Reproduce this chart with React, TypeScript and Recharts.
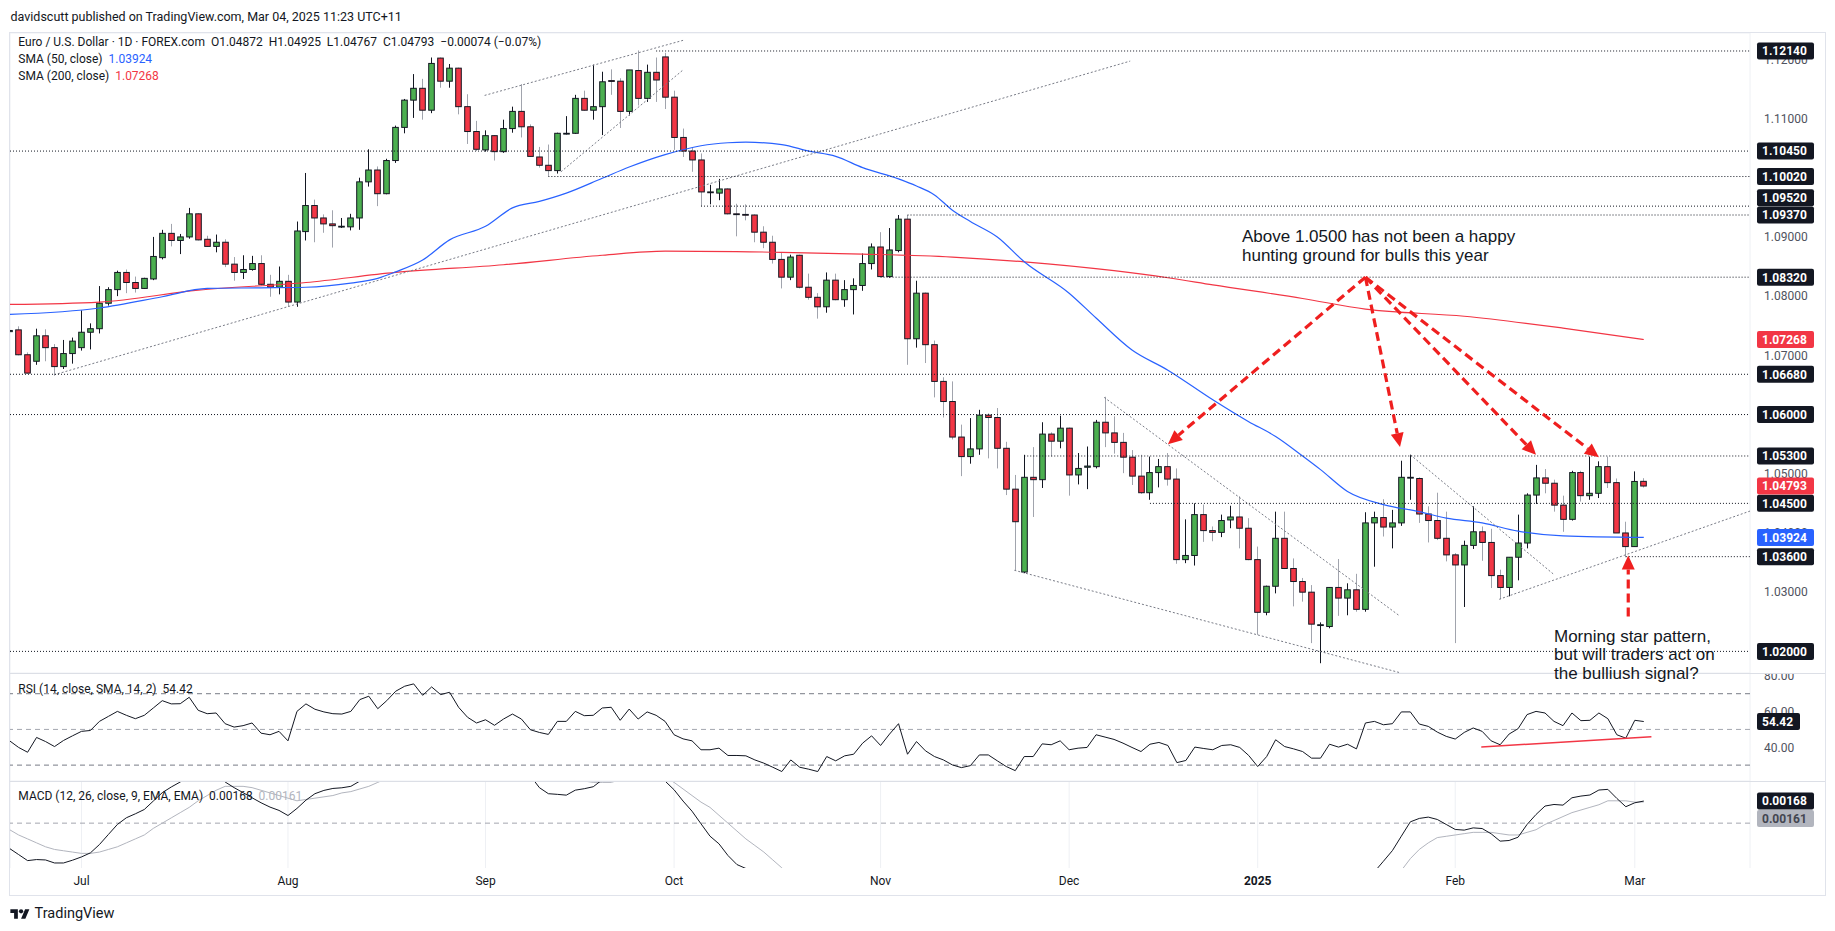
import React from 'react';
import { ComposedChart, Bar, Line, XAxis, YAxis, CartesianGrid, ReferenceLine } from 'recharts';

type Candle = [string, number, number, number, number]; // date, open, high, low, close

const candlesJun: Candle[] = [
  ['2024-06-19', 1.0740, 1.0750, 1.0732, 1.0742],
  ['2024-06-20', 1.0743, 1.0749, 1.0700, 1.0701],
  ['2024-06-21', 1.0701, 1.0705, 1.0669, 1.0670],
  ['2024-06-24', 1.0690, 1.0745, 1.0684, 1.0733],
  ['2024-06-25', 1.0733, 1.0744, 1.0690, 1.0713],
  ['2024-06-26', 1.0713, 1.0719, 1.0666, 1.0681],
  ['2024-06-27', 1.0681, 1.0726, 1.0677, 1.0703],
  ['2024-06-28', 1.0703, 1.0730, 1.0686, 1.0724],
];
const candlesJul: Candle[] = [
  ['2024-07-01', 1.0713, 1.0776, 1.0708, 1.0739],
  ['2024-07-02', 1.0739, 1.0754, 1.0710, 1.0745],
  ['2024-07-03', 1.0745, 1.0817, 1.0737, 1.0788],
  ['2024-07-04', 1.0788, 1.0815, 1.0784, 1.0811],
  ['2024-07-05', 1.0811, 1.0843, 1.0800, 1.0840],
  ['2024-07-08', 1.0840, 1.0845, 1.0805, 1.0823],
  ['2024-07-09', 1.0823, 1.0833, 1.0806, 1.0813],
  ['2024-07-10', 1.0813, 1.0831, 1.0812, 1.0830],
  ['2024-07-11', 1.0829, 1.0900, 1.0827, 1.0867],
  ['2024-07-12', 1.0865, 1.0912, 1.0862, 1.0906],
  ['2024-07-15', 1.0906, 1.0922, 1.0884, 1.0894],
  ['2024-07-16', 1.0894, 1.0905, 1.0871, 1.0900],
  ['2024-07-17', 1.0900, 1.0949, 1.0897, 1.0939],
  ['2024-07-18', 1.0939, 1.0940, 1.0894, 1.0895],
  ['2024-07-19', 1.0896, 1.0902, 1.0883, 1.0884],
  ['2024-07-22', 1.0884, 1.0904, 1.0874, 1.0891],
  ['2024-07-23', 1.0891, 1.0896, 1.0849, 1.0854],
  ['2024-07-24', 1.0854, 1.0866, 1.0826, 1.0840],
  ['2024-07-25', 1.0840, 1.0869, 1.0829, 1.0845],
  ['2024-07-26', 1.0845, 1.0868, 1.0843, 1.0855],
  ['2024-07-29', 1.0855, 1.0869, 1.0818, 1.0820],
  ['2024-07-30', 1.0820, 1.0836, 1.0799, 1.0815],
  ['2024-07-31', 1.0815, 1.0850, 1.0803, 1.0825],
];
const candlesAug: Candle[] = [
  ['2024-08-01', 1.0825, 1.0836, 1.0782, 1.0790],
  ['2024-08-02', 1.0790, 1.0926, 1.0782, 1.0910],
  ['2024-08-05', 1.0909, 1.1008, 1.0894, 1.0953],
  ['2024-08-06', 1.0953, 1.0963, 1.0891, 1.0932],
  ['2024-08-07', 1.0932, 1.0938, 1.0907, 1.0922],
  ['2024-08-08', 1.0922, 1.0945, 1.0882, 1.0919],
  ['2024-08-09', 1.0918, 1.0932, 1.0915, 1.0918],
  ['2024-08-12', 1.0917, 1.0939, 1.0911, 1.0932],
  ['2024-08-13', 1.0932, 1.1000, 1.0912, 1.0993],
  ['2024-08-14', 1.0993, 1.1048, 1.0985, 1.1013],
  ['2024-08-15', 1.1013, 1.1019, 1.0952, 1.0973],
  ['2024-08-16', 1.0973, 1.1032, 1.0972, 1.1029],
  ['2024-08-19', 1.1029, 1.1088, 1.1025, 1.1085],
  ['2024-08-20', 1.1085, 1.1133, 1.1075, 1.1131],
  ['2024-08-21', 1.1131, 1.1175, 1.1101, 1.1151],
  ['2024-08-22', 1.1151, 1.1167, 1.1098, 1.1114],
  ['2024-08-23', 1.1114, 1.1203, 1.1109, 1.1193],
  ['2024-08-26', 1.1202, 1.1203, 1.1152, 1.1163],
  ['2024-08-27', 1.1163, 1.1192, 1.1152, 1.1185],
  ['2024-08-28', 1.1185, 1.1186, 1.1107, 1.1120],
  ['2024-08-29', 1.1120, 1.1141, 1.1057, 1.1078],
  ['2024-08-30', 1.1078, 1.1096, 1.1045, 1.1048],
];
const candlesSep: Candle[] = [
  ['2024-09-02', 1.1047, 1.1080, 1.1044, 1.1071],
  ['2024-09-03', 1.1071, 1.1072, 1.1029, 1.1044],
  ['2024-09-04', 1.1044, 1.1098, 1.1042, 1.1083],
  ['2024-09-05', 1.1083, 1.1120, 1.1076, 1.1112],
  ['2024-09-06', 1.1112, 1.1158, 1.1068, 1.1086],
  ['2024-09-09', 1.1086, 1.1090, 1.1035, 1.1036],
  ['2024-09-10', 1.1035, 1.1052, 1.1017, 1.1021],
  ['2024-09-11', 1.1021, 1.1056, 1.1003, 1.1012],
  ['2024-09-12', 1.1012, 1.1076, 1.1007, 1.1075],
  ['2024-09-13', 1.1074, 1.1104, 1.1073, 1.1075],
  ['2024-09-16', 1.1075, 1.1140, 1.1074, 1.1134],
  ['2024-09-17', 1.1134, 1.1147, 1.1113, 1.1114],
  ['2024-09-18', 1.1114, 1.1191, 1.1098, 1.1120],
  ['2024-09-19', 1.1120, 1.1179, 1.1072, 1.1162],
  ['2024-09-20', 1.1164, 1.1183, 1.1140, 1.1163],
  ['2024-09-23', 1.1163, 1.1168, 1.1084, 1.1112],
  ['2024-09-24', 1.1112, 1.1182, 1.1105, 1.1182],
  ['2024-09-25', 1.1181, 1.1215, 1.1122, 1.1134],
  ['2024-09-26', 1.1134, 1.1191, 1.1128, 1.1178],
  ['2024-09-27', 1.1178, 1.1203, 1.1128, 1.1165],
  ['2024-09-30', 1.1204, 1.1211, 1.1116, 1.1136],
];
const candlesOct: Candle[] = [
  ['2024-10-01', 1.1136, 1.1147, 1.1047, 1.1068],
  ['2024-10-02', 1.1068, 1.1083, 1.1035, 1.1045],
  ['2024-10-03', 1.1045, 1.1051, 1.1010, 1.1030],
  ['2024-10-04', 1.1030, 1.1041, 1.0952, 1.0976],
  ['2024-10-07', 1.0976, 1.0988, 1.0955, 1.0976],
  ['2024-10-08', 1.0974, 1.0998, 1.0962, 1.0981],
  ['2024-10-09', 1.0981, 1.0982, 1.0938, 1.0939],
  ['2024-10-10', 1.0939, 1.0956, 1.0901, 1.0938],
  ['2024-10-11', 1.0938, 1.0955, 1.0928, 1.0937],
  ['2024-10-14', 1.0937, 1.0938, 1.0891, 1.0908],
  ['2024-10-15', 1.0908, 1.0918, 1.0881, 1.0891],
  ['2024-10-16', 1.0891, 1.0902, 1.0855, 1.0862],
  ['2024-10-17', 1.0862, 1.0874, 1.0813, 1.0832],
  ['2024-10-18', 1.0832, 1.0870, 1.0827, 1.0866],
  ['2024-10-21', 1.0869, 1.0870, 1.0813, 1.0815],
  ['2024-10-22', 1.0815, 1.0838, 1.0794, 1.0798],
  ['2024-10-23', 1.0798, 1.0805, 1.0762, 1.0782],
  ['2024-10-24', 1.0782, 1.0840, 1.0772, 1.0827],
  ['2024-10-25', 1.0827, 1.0838, 1.0793, 1.0794],
  ['2024-10-28', 1.0794, 1.0827, 1.0782, 1.0811],
  ['2024-10-29', 1.0811, 1.0830, 1.0769, 1.0818],
  ['2024-10-30', 1.0818, 1.0872, 1.0809, 1.0855],
  ['2024-10-31', 1.0855, 1.0889, 1.0845, 1.0883],
];
const candlesNov: Candle[] = [
  ['2024-11-01', 1.0883, 1.0908, 1.0832, 1.0833],
  ['2024-11-04', 1.0833, 1.0915, 1.0831, 1.0878],
  ['2024-11-05', 1.0877, 1.0937, 1.0874, 1.0930],
  ['2024-11-06', 1.0930, 1.0937, 1.0684, 1.0728],
  ['2024-11-07', 1.0728, 1.0826, 1.0713, 1.0805],
  ['2024-11-08', 1.0805, 1.0806, 1.0687, 1.0718],
  ['2024-11-11', 1.0718, 1.0725, 1.0629, 1.0656],
  ['2024-11-12', 1.0656, 1.0663, 1.0595, 1.0622],
  ['2024-11-13', 1.0622, 1.0656, 1.0558, 1.0562],
  ['2024-11-14', 1.0562, 1.0583, 1.0496, 1.0529],
  ['2024-11-15', 1.0529, 1.0594, 1.0517, 1.0542],
  ['2024-11-18', 1.0542, 1.0608, 1.0532, 1.0599],
  ['2024-11-19', 1.0599, 1.0602, 1.0526, 1.0595],
  ['2024-11-20', 1.0595, 1.0611, 1.0509, 1.0543],
  ['2024-11-21', 1.0543, 1.0554, 1.0464, 1.0474],
  ['2024-11-22', 1.0474, 1.0498, 1.0337, 1.0419],
  ['2024-11-25', 1.0334, 1.0532, 1.0332, 1.0494],
  ['2024-11-26', 1.0494, 1.0545, 1.0427, 1.0490],
  ['2024-11-27', 1.0490, 1.0587, 1.0476, 1.0567],
  ['2024-11-28', 1.0567, 1.0570, 1.0529, 1.0555],
  ['2024-11-29', 1.0555, 1.0598, 1.0543, 1.0577],
];
const candlesDec: Candle[] = [
  ['2024-12-02', 1.0577, 1.0578, 1.0463, 1.0498],
  ['2024-12-03', 1.0498, 1.0535, 1.0482, 1.0509],
  ['2024-12-04', 1.0511, 1.0546, 1.0474, 1.0513],
  ['2024-12-05', 1.0512, 1.0591, 1.0509, 1.0587],
  ['2024-12-06', 1.0587, 1.0630, 1.0545, 1.0569],
  ['2024-12-09', 1.0569, 1.0597, 1.0534, 1.0553],
  ['2024-12-10', 1.0553, 1.0569, 1.0501, 1.0528],
  ['2024-12-11', 1.0528, 1.0540, 1.0481, 1.0496],
  ['2024-12-12', 1.0496, 1.0532, 1.0466, 1.0468],
  ['2024-12-13', 1.0468, 1.0529, 1.0456, 1.0502],
  ['2024-12-16', 1.0502, 1.0525, 1.0477, 1.0512],
  ['2024-12-17', 1.0512, 1.0535, 1.0480, 1.0491],
  ['2024-12-18', 1.0491, 1.0509, 1.0348, 1.0355],
  ['2024-12-19', 1.0355, 1.0423, 1.0349, 1.0362],
  ['2024-12-20', 1.0362, 1.0450, 1.0345, 1.0431],
  ['2024-12-23', 1.0431, 1.0448, 1.0385, 1.0404],
  ['2024-12-24', 1.0404, 1.0411, 1.0386, 1.0401],
  ['2024-12-26', 1.0401, 1.0431, 1.0393, 1.0421],
  ['2024-12-27', 1.0422, 1.0446, 1.0408, 1.0427],
  ['2024-12-30', 1.0427, 1.0462, 1.0374, 1.0408],
  ['2024-12-31', 1.0408, 1.0425, 1.0354, 1.0355],
];
const candlesJan: Candle[] = [
  ['2025-01-02', 1.0355, 1.0377, 1.0228, 1.0266],
  ['2025-01-03', 1.0266, 1.0311, 1.0261, 1.0310],
  ['2025-01-06', 1.0310, 1.0436, 1.0298, 1.0391],
  ['2025-01-07', 1.0391, 1.0436, 1.0339, 1.0340],
  ['2025-01-08', 1.0340, 1.0357, 1.0276, 1.0318],
  ['2025-01-09', 1.0318, 1.0324, 1.0284, 1.0300],
  ['2025-01-10', 1.0300, 1.0312, 1.0214, 1.0246],
  ['2025-01-13', 1.0245, 1.0249, 1.0180, 1.0245],
  ['2025-01-14', 1.0242, 1.0308, 1.0239, 1.0308],
  ['2025-01-15', 1.0308, 1.0356, 1.0260, 1.0290],
  ['2025-01-16', 1.0290, 1.0315, 1.0261, 1.0304],
  ['2025-01-17', 1.0304, 1.0331, 1.0267, 1.0271],
  ['2025-01-20', 1.0271, 1.0435, 1.0267, 1.0417],
  ['2025-01-21', 1.0417, 1.0436, 1.0343, 1.0426],
  ['2025-01-22', 1.0426, 1.0457, 1.0394, 1.0410],
  ['2025-01-23', 1.0410, 1.0439, 1.0374, 1.0417],
  ['2025-01-24', 1.0417, 1.0522, 1.0412, 1.0494],
  ['2025-01-27', 1.0494, 1.0532, 1.0456, 1.0494],
  ['2025-01-28', 1.0492, 1.0494, 1.0417, 1.0432],
  ['2025-01-29', 1.0432, 1.0445, 1.0384, 1.0421],
  ['2025-01-30', 1.0421, 1.0468, 1.0388, 1.0391],
  ['2025-01-31', 1.0391, 1.0436, 1.0352, 1.0363],
];
const candlesFeb: Candle[] = [
  ['2025-02-03', 1.0363, 1.0366, 1.0214, 1.0346],
  ['2025-02-04', 1.0346, 1.0387, 1.0275, 1.0379],
  ['2025-02-05', 1.0379, 1.0445, 1.0373, 1.0402],
  ['2025-02-06', 1.0402, 1.0411, 1.0353, 1.0384],
  ['2025-02-07', 1.0384, 1.0407, 1.0307, 1.0328],
  ['2025-02-10', 1.0328, 1.0338, 1.0288, 1.0308],
  ['2025-02-11', 1.0308, 1.0359, 1.0293, 1.0359],
  ['2025-02-12', 1.0359, 1.0431, 1.0320, 1.0383],
  ['2025-02-13', 1.0383, 1.0467, 1.0374, 1.0464],
  ['2025-02-14', 1.0464, 1.0515, 1.0449, 1.0493],
  ['2025-02-17', 1.0493, 1.0508, 1.0467, 1.0484],
  ['2025-02-18', 1.0484, 1.0490, 1.0436, 1.0447],
  ['2025-02-19', 1.0447, 1.0463, 1.0402, 1.0423],
  ['2025-02-20', 1.0423, 1.0505, 1.0421, 1.0502],
  ['2025-02-21', 1.0502, 1.0505, 1.0453, 1.0463],
  ['2025-02-24', 1.0463, 1.0529, 1.0456, 1.0467],
  ['2025-02-25', 1.0467, 1.0521, 1.0459, 1.0512],
  ['2025-02-26', 1.0512, 1.0529, 1.0476, 1.0485],
  ['2025-02-27', 1.0485, 1.0492, 1.0400, 1.0400],
  ['2025-02-28', 1.0400, 1.0419, 1.0359, 1.0377],
];
const candlesMar: Candle[] = [
  ['2025-03-03', 1.0377, 1.0504, 1.0377, 1.0487],
  ['2025-03-04', 1.04872, 1.04925, 1.04767, 1.04793],
];

// RSI(14) values, one per candle
const rsiJunSep = [
  43.6, 39.9, 37.2, 45.5, 43.2, 40.4, 43.8, 46.4, 48.9, 49.4,
  54.5, 57.3, 60.1, 57.9, 56.0, 57.9, 62.0, 66.1, 64.3, 64.4,
  68.0, 60.7, 58.8, 59.2, 53.2, 51.3, 52.1, 53.6, 47.9, 47.0,
  48.9, 43.6, 60.1, 64.3, 61.3, 59.8, 58.8, 58.6, 60.1, 66.7,
  68.6, 61.6, 66.1, 71.4, 74.2, 75.5, 69.1, 73.8, 69.5, 70.8,
  62.4, 56.8, 53.6, 55.4, 52.3, 55.8, 58.6, 55.8, 49.8, 48.3,
  47.2, 54.5, 54.5, 60.1, 57.7, 57.9, 62.0, 62.4, 55.1, 61.4,
  55.8, 59.8, 57.9, 54.5,
];
const rsiOctDec = [
  47.0, 44.7, 43.6, 38.6, 38.6, 39.5,
  35.4, 35.4, 35.2, 32.9, 31.1, 28.8, 26.4, 32.9, 28.8, 27.7,
  26.4, 34.8, 32.4, 35.2, 36.1, 42.3, 46.4, 41.0, 47.4, 53.2,
  36.1, 43.2, 38.0, 34.8, 32.9, 30.1, 28.6, 29.7, 35.7, 35.7,
  32.4, 29.2, 26.9, 34.8, 34.8, 41.9, 41.4, 43.6, 38.6, 39.5,
  39.9, 47.0, 45.7, 44.4, 42.3, 39.9, 37.6, 41.7, 42.7, 41.0,
  31.4, 32.6, 40.1, 39.3, 38.6, 41.0, 41.4, 39.9, 35.4,
];
const rsiJanMar = [
  29.2,
  34.8, 44.2, 40.4, 39.1, 37.6, 33.9, 33.9, 41.7, 40.1, 41.7,
  39.1, 53.6, 54.5, 52.6, 53.2, 59.8, 59.8, 53.0, 51.7, 48.5,
  46.1, 44.6, 48.3, 50.8, 48.9, 43.6, 41.4, 47.4, 50.4, 58.3,
  60.1, 59.2, 54.5, 52.1, 59.2, 54.9, 55.1, 59.2, 56.0, 47.0,
  45.1, 55.1, 54.42,
];

// MACD line: visible runs only (values beyond the pane are cut off)
const macdRuns: { start: string; values: number[] }[] = [
  { start: '2024-06-19', values: [-0.00193, -0.00239, -0.00285, -0.00277, -0.0028, -0.00303, -0.00303, -0.00282, -0.00257, -0.00226, -0.00163, -0.00086, -0.0001, 0.00041, 0.00071, 0.00104, 0.00168, 0.00232, 0.00275, 0.00313, 0.0037] },
  { start: '2024-07-22', values: [0.0037, 0.00313, 0.0027, 0.00232, 0.00193, 0.00155, 0.00122, 0.00097, 0.00058, 0.00112, 0.00175, 0.00224, 0.00249, 0.00264, 0.00269, 0.0028, 0.0032, 0.0038] },
  { start: '2024-09-09', values: [0.0036, 0.0027, 0.00224, 0.00219, 0.00213, 0.00251, 0.00262, 0.00277, 0.0033, 0.0038] },
  { start: '2024-09-27', values: [0.0038, 0.0032, 0.00254, 0.00168, 0.00091, -0.00005, -0.00099, -0.00157, -0.00246, -0.00315, -0.00345, -0.004] },
  { start: '2025-01-21', values: [-0.0037, -0.0029, -0.00209, -0.00099, 0.0001, 0.00036, 0.00046, 0.00028, -0.0001, -0.00048, -0.00053, -0.00036, -0.00041, -0.00081, -0.00137, -0.00132, -0.00107, -0.0001, 0.00066, 0.0013, 0.00142, 0.00137, 0.00193, 0.00206, 0.00214, 0.00252, 0.00257, 0.00188, 0.00125, 0.00155, 0.00168] },
];
const signalRuns: { start: string; values: number[] }[] = [
  { start: '2024-06-19', values: [-0.0005, -0.0009, -0.0012, -0.0015, -0.0018, -0.002, -0.0021, -0.0022, -0.0023, -0.0023, -0.0022, -0.002, -0.0018, -0.0015, -0.0012, -0.0009, -0.0004, 0.0, 0.0004, 0.0008, 0.0012, 0.0017, 0.0021, 0.0025, 0.0028, 0.0028, 0.0028, 0.0027, 0.0025, 0.0023, 0.0021, 0.0019, 0.0017, 0.0018, 0.0019, 0.002, 0.0021, 0.0023, 0.0024, 0.0026, 0.0028, 0.0031, 0.0034, 0.0038] },
  { start: '2024-09-13', values: [0.0037, 0.0033, 0.0032, 0.0031, 0.0031, 0.0031, 0.0033, 0.0037] },
  { start: '2024-09-30', values: [0.0035, 0.0031, 0.0026, 0.0021, 0.0016, 0.0012, 0.0006, 0.0, -0.0006, -0.0012, -0.0017, -0.0022, -0.0028, -0.0034, -0.004] },
  { start: '2025-01-24', values: [-0.0036, -0.0027, -0.002, -0.0015, -0.0011, -0.001, -0.0009, -0.0008, -0.0007, -0.0007, -0.0007, -0.0008, -0.0009, -0.0009, -0.0007, -0.0005, -0.0001, 0.0002, 0.0005, 0.0008, 0.001, 0.0012, 0.0014, 0.0017, 0.0017, 0.0017, 0.0016, 0.00161] },
];

// Moving averages at intervals
const sma50Points: [string, number][] = [
  ['2024-06-19', 1.0769], ['2024-07-03', 1.0780], ['2024-07-12', 1.0799], ['2024-07-19', 1.0813],
  ['2024-07-29', 1.0814], ['2024-08-05', 1.0815], ['2024-08-12', 1.0822], ['2024-08-15', 1.0830],
  ['2024-08-19', 1.0841], ['2024-08-22', 1.0861], ['2024-08-27', 1.0895], ['2024-09-02', 1.0918],
  ['2024-09-05', 1.0949], ['2024-09-10', 1.0960], ['2024-09-13', 1.0974], ['2024-09-19', 1.0999],
  ['2024-09-24', 1.1018], ['2024-09-30', 1.1039], ['2024-10-04', 1.1054], ['2024-10-09', 1.1059],
  ['2024-10-11', 1.1060], ['2024-10-17', 1.1056], ['2024-10-22', 1.1045], ['2024-10-25', 1.1036],
  ['2024-10-30', 1.1017], ['2024-11-05', 1.0998], ['2024-11-07', 1.0986], ['2024-11-11', 1.0971],
  ['2024-11-13', 1.0945], ['2024-11-15', 1.0926], ['2024-11-20', 1.0900], ['2024-11-25', 1.0858],
  ['2024-12-02', 1.0805], ['2024-12-05', 1.0763], ['2024-12-11', 1.0709], ['2024-12-17', 1.0675],
  ['2024-12-24', 1.0625], ['2024-12-31', 1.0588], ['2025-01-06', 1.0563], ['2025-01-09', 1.0530],
  ['2025-01-13', 1.0507], ['2025-01-16', 1.0470], ['2025-01-22', 1.0448], ['2025-01-28', 1.0436],
  ['2025-01-31', 1.0425], ['2025-02-06', 1.0417], ['2025-02-12', 1.0403], ['2025-02-19', 1.0395],
  ['2025-03-04', 1.03924],
];
const sma200Points: [string, number][] = [
  ['2024-06-19', 1.0786], ['2024-07-03', 1.0790], ['2024-07-18', 1.0810], ['2024-08-05', 1.0823],
  ['2024-08-19', 1.0840], ['2024-09-04', 1.0853], ['2024-09-19', 1.0869], ['2024-09-30', 1.0876],
  ['2024-10-17', 1.0874], ['2024-10-30', 1.0871], ['2024-11-13', 1.0866], ['2024-11-25', 1.0858],
  ['2024-12-09', 1.0843], ['2024-12-17', 1.0831], ['2024-12-24', 1.0819], ['2025-01-09', 1.0796],
  ['2025-01-20', 1.0778], ['2025-02-04', 1.0766], ['2025-02-19', 1.0746], ['2025-03-04', 1.07268],
];

// Horizontal levels and the date each dotted level starts from ('' = from the left edge)
const levelValues = [1.1214, 1.1045, 1.1002, 1.0952, 1.0937, 1.0832, 1.0668, 1.06, 1.053, 1.045, 1.036, 1.02];
const levelStarts = ['2024-09-27', '', '2024-09-11', '2024-10-04', '2024-11-06', '2024-11-01', '', '', '2024-11-25', '2024-12-13', '2025-02-28', ''];

// Trend lines in (bar index, price)
const trendLines: [number, number, number, number][] = [
  [4.94, 1.0667, 124.8, 1.1197],
  [52.9, 1.1139, 75.0, 1.1232],
  [61.4, 1.1010, 75.0, 1.1182],
  [121.9, 1.0629, 154.8, 1.0260],
  [111.9, 1.0337, 154.85, 1.0164],
  [156.0, 1.0532, 171.9, 1.0331],
  [165.9, 1.0288, 193.83, 1.0437],
];
// Annotation arrows (bar index, price) from -> to
const arrowLines: [number, number, number, number][] = [
  [151.0, 1.0832, 129.0, 1.0550],
  [151.0, 1.0832, 154.85, 1.0545],
  [151.0, 1.0832, 170.0, 1.0532],
  [151.0, 1.0832, 177.0, 1.0528],
  [180.27, 1.0259, 180.27, 1.0362],
];
const rsiTrend: [number, number, number, number] = [163.9, 40.1, 182.85, 45.9];

const priceTicks = [1.02, 1.03, 1.04, 1.05, 1.06, 1.07, 1.08, 1.09, 1.10, 1.11, 1.12];
const rsiTicks = [40, 60, 80];
const monthKeys = ['2024-07', '2024-08', '2024-09', '2024-10', '2024-11', '2024-12', '2025-01', '2025-02', '2025-03'];
const monthLabels = ['Jul', 'Aug', 'Sep', 'Oct', 'Nov', 'Dec', '2025', 'Feb', 'Mar'];

// ---------- build table ----------
const allCandles: Candle[] = [
  ...candlesJun, ...candlesJul, ...candlesAug, ...candlesSep, ...candlesOct,
  ...candlesNov, ...candlesDec, ...candlesJan, ...candlesFeb, ...candlesMar,
];
const rsiAll = [...rsiJunSep, ...rsiOctDec, ...rsiJanMar];
const dateIdx = new Map<string, number>(allCandles.map((c, i) => [c[0], i]));

type Row = {
  i: number; o: number; h: number; l: number; c: number; range: [number, number];
  rsi: number | null; macd: number | null; signal: number | null; sma50: number | null; sma200: number | null;
};
const data: Row[] = allCandles.map((c, i) => ({
  i, o: c[1], h: c[2], l: c[3], c: c[4], range: [c[3], c[2]],
  rsi: rsiAll[i] ?? null, macd: null, signal: null, sma50: null, sma200: null,
}));
macdRuns.forEach((r) => { const s = dateIdx.get(r.start)!; r.values.forEach((v, k) => { if (data[s + k]) data[s + k].macd = v; }); });
signalRuns.forEach((r) => { const s = dateIdx.get(r.start)!; r.values.forEach((v, k) => { if (data[s + k]) data[s + k].signal = v; }); });
sma50Points.forEach(([d, v]) => { const k = dateIdx.get(d); if (k != null) data[k].sma50 = v; });
sma200Points.forEach(([d, v]) => { const k = dateIdx.get(d); if (k != null) data[k].sma200 = v; });

const monthTicks = monthKeys.map((m) => allCandles.findIndex((c) => c[0].startsWith(m)));
const tickLabel = (v: number) => monthLabels[monthTicks.indexOf(v)] ?? '';

// ---------- layout constants ----------
const W = 1835;
const X_MIN = 0.04;
const X_MAX = 193.83;
const P_MIN = 1.01635;
const P_MAX = 1.12444;
const RSI_MIN = 21.1;
const RSI_MAX = 81.6;
const MACD_MIN = -0.003412;
const MACD_MAX = 0.003206;
const MARGIN = { top: 0, right: 10, bottom: 0, left: 10 };
const UI_FONT = 'Roboto, "Liberation Sans", sans-serif';
const NOTE_FONT = '"Liberation Sans", Arial, sans-serif';
const INK = '#131722';
const GRID = '#eef0f4';
const ARROW_RED = '#ef1f1f';

// ---------- shapes ----------
function CandleShape(props: any) {
  const { x, y, width, height, payload } = props;
  if (!payload || x == null || y == null) return <g />;
  const top = Math.min(y, y + height);
  const hgt = Math.abs(height);
  const span = payload.h - payload.l;
  const toY = (v: number) => (span > 0 ? top + ((payload.h - v) / span) * hgt : top);
  const cx = Math.round(x + width / 2) + 0.5;
  const up = payload.c >= payload.o;
  const bTop = toY(Math.max(payload.o, payload.c));
  const bBot = toY(Math.min(payload.o, payload.c));
  const bw = 5.6;
  return (
    <g>
      <line x1={cx} x2={cx} y1={top} y2={top + hgt} stroke={up ? INK : '#a1a4ad'} strokeWidth={1} />
      <rect x={cx - bw / 2} y={bTop} width={bw} height={Math.max(bBot - bTop, 0.8)}
        fill={up ? '#4caf50' : '#f23645'} stroke={INK} strokeWidth={1} />
    </g>
  );
}

function ArrowShape(props: any) {
  const { x1, y1, x2, y2 } = props;
  if ([x1, y1, x2, y2].some((v) => v == null || Number.isNaN(v))) return <g />;
  const ang = Math.atan2(y2 - y1, x2 - x1);
  const hl = 14;
  const hw = 6.5;
  const bx = x2 - hl * Math.cos(ang);
  const by = y2 - hl * Math.sin(ang);
  const px = -Math.sin(ang) * hw;
  const py = Math.cos(ang) * hw;
  return (
    <g>
      <line x1={x1} y1={y1} x2={bx} y2={by} stroke={ARROW_RED} strokeWidth={3.2} strokeDasharray="9 5" />
      <polygon points={`${x2},${y2} ${bx + px},${by + py} ${bx - px},${by - py}`} fill={ARROW_RED} />
    </g>
  );
}

// boxed value on the price scale
const boxLabel = (text: string, bg: string, fg: string, w: number, dy = 0) => (props: any) => {
  const vb = props.viewBox || {};
  const x0 = (vb.x ?? 0) + (vb.width ?? 0) + 7;
  const yc = (vb.y ?? 0) + dy;
  return (
    <g>
      <rect x={x0} y={yc - 8.5} width={w} height={17} rx={2} fill={bg} />
      <text x={x0 + 5} y={yc} dy="0.36em" fill={fg} fontSize={12} fontWeight={700} fontFamily={UI_FONT}>{text}</text>
    </g>
  );
};
// plain scale label (drawn first so boxes cover it)
const plainLabel = (text: string) => (props: any) => {
  const vb = props.viewBox || {};
  const x0 = (vb.x ?? 0) + (vb.width ?? 0) + 14;
  return (
    <text x={x0} y={vb.y ?? 0} dy="0.36em" fill="#50535e" fontSize={12} fontFamily={UI_FONT}>{text}</text>
  );
};

const monthTick = (p: any) => {
  const label = tickLabel(p.payload.value);
  return (
    <text x={p.x} y={p.y + 13} dy="0.36em" textAnchor="middle" fill={INK} fontSize={12}
      fontWeight={label === '2025' ? 700 : 400} fontFamily={UI_FONT}>{label}</text>
  );
};

const xCommon = {
  dataKey: 'i', type: 'number' as const, domain: [X_MIN, X_MAX] as [number, number],
  ticks: monthTicks, allowDataOverflow: true, interval: 0 as const,
};

function PriceChart() {
  return (
    <ComposedChart width={W} height={640} data={data} margin={MARGIN}>
      <CartesianGrid stroke={GRID} />
      <XAxis {...xCommon} height={0} tick={false} axisLine={false} tickLine={false} />
      <YAxis orientation="right" width={75} domain={[P_MIN, P_MAX]} ticks={priceTicks} allowDataOverflow
        axisLine={false} tickLine={false} tick={false} />
      <Bar dataKey="range" barSize={9} shape={(p: any) => <CandleShape {...p} />} isAnimationActive={false} />
      <Line dataKey="sma200" type="monotone" stroke="#f23645" strokeWidth={1.2} dot={false} activeDot={false} connectNulls isAnimationActive={false} />
      <Line dataKey="sma50" type="monotone" stroke="#2962ff" strokeWidth={1.2} dot={false} activeDot={false} connectNulls isAnimationActive={false} />
      {priceTicks.map((t) => (
        <ReferenceLine key={`pt${t}`} y={t} stroke="none" ifOverflow="visible" label={plainLabel(t.toFixed(5))} />
      ))}
      {trendLines.map((t, k) => (
        <ReferenceLine key={`t${k}`} segment={[{ x: t[0], y: t[1] }, { x: t[2], y: t[3] }]} ifOverflow="visible"
          stroke="#787b86" strokeWidth={1} strokeDasharray="2 2" />
      ))}
      {levelValues.map((v, k) => {
        const s = levelStarts[k] ? dateIdx.get(levelStarts[k])! : X_MIN;
        return (
          <ReferenceLine key={`l${k}`} segment={[{ x: s, y: v }, { x: X_MAX, y: v }]} ifOverflow="visible"
            stroke={INK} strokeWidth={1} strokeDasharray="1 2"
            label={boxLabel(v.toFixed(5), INK, '#ffffff', 57, v === 1.0952 ? -8.5 : 0)} />
        );
      })}
      {arrowLines.map((a, k) => (
        <ReferenceLine key={`a${k}`} segment={[{ x: a[0], y: a[1] }, { x: a[2], y: a[3] }]} ifOverflow="visible"
          stroke={ARROW_RED} shape={(p: any) => <ArrowShape {...p} />} />
      ))}
      <ReferenceLine y={1.07268} stroke="none" ifOverflow="visible" label={boxLabel('1.07268', '#f23645', '#ffffff', 57)} />
      <ReferenceLine y={1.04793} stroke="none" ifOverflow="visible" label={boxLabel('1.04793', '#f23645', '#ffffff', 57)} />
      <ReferenceLine y={1.03924} stroke="none" ifOverflow="visible" label={boxLabel('1.03924', '#2962ff', '#ffffff', 57)} />
    </ComposedChart>
  );
}

function RsiChart() {
  return (
    <ComposedChart width={W} height={108} data={data} margin={MARGIN}>
      <CartesianGrid stroke={GRID} />
      <XAxis {...xCommon} height={0} tick={false} axisLine={false} tickLine={false} />
      <YAxis orientation="right" width={75} domain={[RSI_MIN, RSI_MAX]} ticks={rsiTicks} allowDataOverflow
        axisLine={false} tickLine={false} tick={false} />
      <ReferenceLine y={70} stroke="#787b86" strokeDasharray="5 4" />
      <ReferenceLine y={50} stroke="#a3a6af" strokeDasharray="5 4" />
      <ReferenceLine y={30} stroke="#787b86" strokeDasharray="5 4" />
      <Line dataKey="rsi" type="linear" stroke={INK} strokeWidth={1} dot={false} activeDot={false} isAnimationActive={false} />
      <ReferenceLine segment={[{ x: rsiTrend[0], y: rsiTrend[1] }, { x: rsiTrend[2], y: rsiTrend[3] }]} ifOverflow="visible"
        stroke="#f23645" strokeWidth={1.5} />
      {rsiTicks.map((t) => (
        <ReferenceLine key={`rt${t}`} y={t} stroke="none" ifOverflow="visible" label={plainLabel(t.toFixed(2))} />
      ))}
      <ReferenceLine y={54.42} stroke="none" ifOverflow="visible" label={boxLabel('54.42', INK, '#ffffff', 43)} />
    </ComposedChart>
  );
}

function MacdChart() {
  return (
    <ComposedChart width={W} height={115} data={data} margin={MARGIN}>
      <CartesianGrid stroke={GRID} horizontal={false} />
      <XAxis {...xCommon} height={28} axisLine={false} tickLine={false} tickSize={0} tickMargin={0} tick={monthTick} />
      <YAxis orientation="right" width={75} domain={[MACD_MIN, MACD_MAX]} ticks={[0]} allowDataOverflow
        axisLine={false} tickLine={false} tick={false} />
      <ReferenceLine y={0} stroke="#a3a6af" strokeDasharray="5 4" />
      <Line dataKey="signal" type="linear" stroke="#b2b5be" strokeWidth={1} dot={false} activeDot={false} isAnimationActive={false} />
      <Line dataKey="macd" type="linear" stroke={INK} strokeWidth={1} dot={false} activeDot={false} isAnimationActive={false} />
      <ReferenceLine y={0.00161} stroke="none" ifOverflow="visible" label={boxLabel('0.00161', '#b2b5be', '#434651', 57, 16.5)} />
      <ReferenceLine y={0.00168} stroke="none" ifOverflow="visible" label={boxLabel('0.00168', INK, '#ffffff', 57)} />
    </ComposedChart>
  );
}

const txt = (left: number, top: number, extra: React.CSSProperties = {}): React.CSSProperties => ({
  position: 'absolute', left, top, whiteSpace: 'nowrap', fontFamily: UI_FONT, fontSize: 12, lineHeight: '16px', color: INK, ...extra,
});

export default function App() {
  return (
    <div style={{ position: 'fixed', left: 0, top: 0, width: W, height: 931, background: '#fff', overflow: 'hidden' }}>
      <div style={txt(10.5, 9, { fontSize: 12.5 })}>davidscutt published on TradingView.com, Mar 04, 2025 11:23 UTC+11</div>

      <div style={{ position: 'absolute', left: 0, top: 33 }}><PriceChart /></div>
      <div style={{ position: 'absolute', left: 0, top: 673 }}><RsiChart /></div>
      <div style={{ position: 'absolute', left: 0, top: 781 }}><MacdChart /></div>

      {/* frame and pane separators */}
      <div style={{ position: 'absolute', left: 9, top: 32, width: 1817, height: 864, border: '1px solid #e0e3eb', boxSizing: 'border-box', pointerEvents: 'none' }} />
      <div style={{ position: 'absolute', left: 10, top: 672.5, width: 1815, height: 1.5, background: '#dcdfe6' }} />
      <div style={{ position: 'absolute', left: 10, top: 780.5, width: 1815, height: 1.5, background: '#dcdfe6' }} />

      {/* legends */}
      <div style={txt(18.3, 34.3)}>Euro / U.S. Dollar · 1D · FOREX.com&nbsp;&nbsp;O1.04872&nbsp;&nbsp;H1.04925&nbsp;&nbsp;L1.04767&nbsp;&nbsp;C1.04793&nbsp;&nbsp;−0.00074 (−0.07%)</div>
      <div style={txt(18.3, 51.3)}>SMA (50, close)&nbsp;&nbsp;<span style={{ color: '#2962ff' }}>1.03924</span></div>
      <div style={txt(18.3, 67.7)}>SMA (200, close)&nbsp;&nbsp;<span style={{ color: '#f23645' }}>1.07268</span></div>
      <div style={txt(18.3, 680.7)}>RSI (14, close, SMA, 14, 2)&nbsp;&nbsp;54.42</div>
      <div style={txt(18.3, 788)}>MACD (12, 26, close, 9, EMA, EMA)&nbsp;&nbsp;0.00168&nbsp;&nbsp;<span style={{ color: '#b2b5be' }}>0.00161</span></div>

      {/* annotations */}
      <div style={{ position: 'absolute', left: 1242, top: 227, fontFamily: NOTE_FONT, fontSize: 17, lineHeight: '19px', color: INK, whiteSpace: 'nowrap' }}>
        Above 1.0500 has not been a happy<br />hunting ground for bulls this year
      </div>
      <div style={{ position: 'absolute', left: 1554, top: 627.5, fontFamily: NOTE_FONT, fontSize: 17, lineHeight: '18.5px', color: INK, whiteSpace: 'nowrap' }}>
        Morning star pattern,<br />but will traders act on<br />the bulliush signal?
      </div>

      {/* footer logo */}
      <div style={{ position: 'absolute', left: 9.6, top: 906, display: 'flex', alignItems: 'center', gap: 5 }}>
        <svg width="20" height="15" viewBox="0 0 36 28">
          <path d="M14 22H7V11H0V4h14v18zM28 22h-8l7.5-18h8L28 22z" fill={INK} />
          <circle cx="20" cy="8" r="4" fill={INK} />
        </svg>
        <span style={{ fontFamily: UI_FONT, fontSize: 14.5, color: INK, lineHeight: '16px' }}>TradingView</span>
      </div>
    </div>
  );
}
